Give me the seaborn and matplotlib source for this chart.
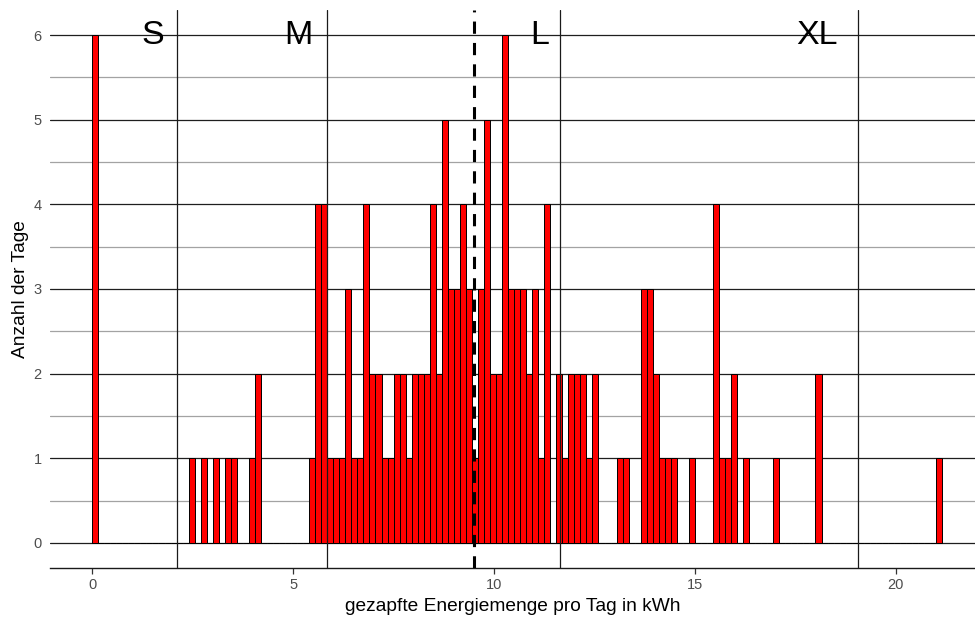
import numpy as np
import pandas as pd
import matplotlib
matplotlib.use("Agg")
import matplotlib.pyplot as plt
from matplotlib.ticker import MultipleLocator, FixedLocator
import seaborn as sns

# ---- data ----
bin_width = 0.15
bin_start = [0.00, 2.40, 2.70, 3.00, 3.30, 3.45, 3.90, 4.05,
             5.40, 5.55, 5.70, 5.85, 6.00, 6.15, 6.30, 6.45, 6.60, 6.75,
             6.90, 7.05, 7.20, 7.35, 7.50, 7.65, 7.80, 7.95, 8.10, 8.25,
             8.40, 8.55, 8.70, 8.85, 9.00, 9.15, 9.30, 9.45, 9.60, 9.75,
             9.90, 10.05, 10.20, 10.35, 10.50, 10.65, 10.80, 10.95, 11.10,
             11.25, 11.55, 11.70, 11.85, 12.00, 12.15, 12.30, 12.45,
             13.05, 13.20, 13.65, 13.80, 13.95, 14.10, 14.25, 14.40, 14.85,
             15.45, 15.60, 15.75, 15.90, 16.20, 16.95, 18.00, 21.00]
days = [6, 1, 1, 1, 1, 1, 1, 2,
        1, 4, 4, 1, 1, 1, 3, 1, 1, 4,
        2, 2, 1, 1, 2, 2, 1, 2, 2, 2,
        4, 2, 5, 3, 3, 4, 3, 1, 3, 5,
        2, 2, 6, 3, 3, 3, 2, 3, 1,
        4, 2, 1, 2, 2, 2, 1, 2,
        1, 1, 3, 3, 2, 1, 1, 1, 1,
        4, 1, 1, 2, 1, 1, 2, 1]
class_bounds = [2.11, 5.84, 11.64, 19.06]
mean_line = 9.50
class_labels = ["S", "M", "L", "XL"]
class_label_x = [1.52, 5.12, 11.14, 18.03]
x_ticks = [0, 5, 10, 15, 20]
y_ticks = [0, 1, 2, 3, 4, 5, 6]

df = pd.DataFrame({"energie": np.array(bin_start) + bin_width / 2,
                   "tage": days})

sns.set_theme(style="white")
plt.rcParams["font.family"] = ["Liberation Sans", "DejaVu Sans"]

W, H = 975, 619
fig = plt.figure(figsize=(W / 100, H / 100), dpi=100)
ax = fig.add_axes([50 / W, (H - 568.3) / H, 925 / W, (568.3 - 9.7) / H])

sns.histplot(data=df, x="energie", weights="tage", binwidth=bin_width,
             binrange=(0, 21.15), color="#FF0000", edgecolor="black",
             linewidth=0.7, alpha=1, ax=ax, zorder=2)

ax.set_xlim(-1.05, 21.97)
ax.set_ylim(-0.30, 6.30)

# grid
ax.set_axisbelow(True)
ax.yaxis.set_major_locator(FixedLocator(y_ticks))
ax.yaxis.set_minor_locator(MultipleLocator(0.5))
ax.xaxis.set_major_locator(FixedLocator(x_ticks))
ax.grid(axis="y", which="major", color="#1e1e1e", linewidth=0.9)
ax.grid(axis="y", which="minor", color="#a3a3a3", linewidth=0.9)
ax.grid(axis="x", which="both", visible=False)

for b in class_bounds:
    ax.axvline(b, color="#1a1a1a", linewidth=0.9, zorder=3)
ax.axvline(mean_line, color="black", linewidth=2.2, linestyle=(0, (4, 3)),
           zorder=4)

for lab, xv in zip(class_labels, class_label_x):
    ax.text(xv, 6.0, lab, fontsize=24.5, ha="center", va="center",
            color="black", zorder=5)

for s in ["top", "right", "left"]:
    ax.spines[s].set_visible(False)
ax.spines["bottom"].set_color("#1a1a1a")
ax.spines["bottom"].set_linewidth(1.0)

ax.tick_params(axis="y", which="both", length=0, labelsize=10.5,
               labelcolor="#4d4d4d", pad=6)
ax.tick_params(axis="x", which="major", length=4, width=0.9,
               color="#333333", labelsize=10.5, labelcolor="#4d4d4d",
               pad=3, bottom=True)
ax.tick_params(axis="x", which="minor", length=0)

ax.set_xlabel("gezapfte Energiemenge pro Tag in kWh", fontsize=13.8,
              color="black", labelpad=4.5)
ax.set_ylabel("Anzahl der Tage", fontsize=13.8, color="black", labelpad=3)

fig.savefig("out.png", dpi=100)
